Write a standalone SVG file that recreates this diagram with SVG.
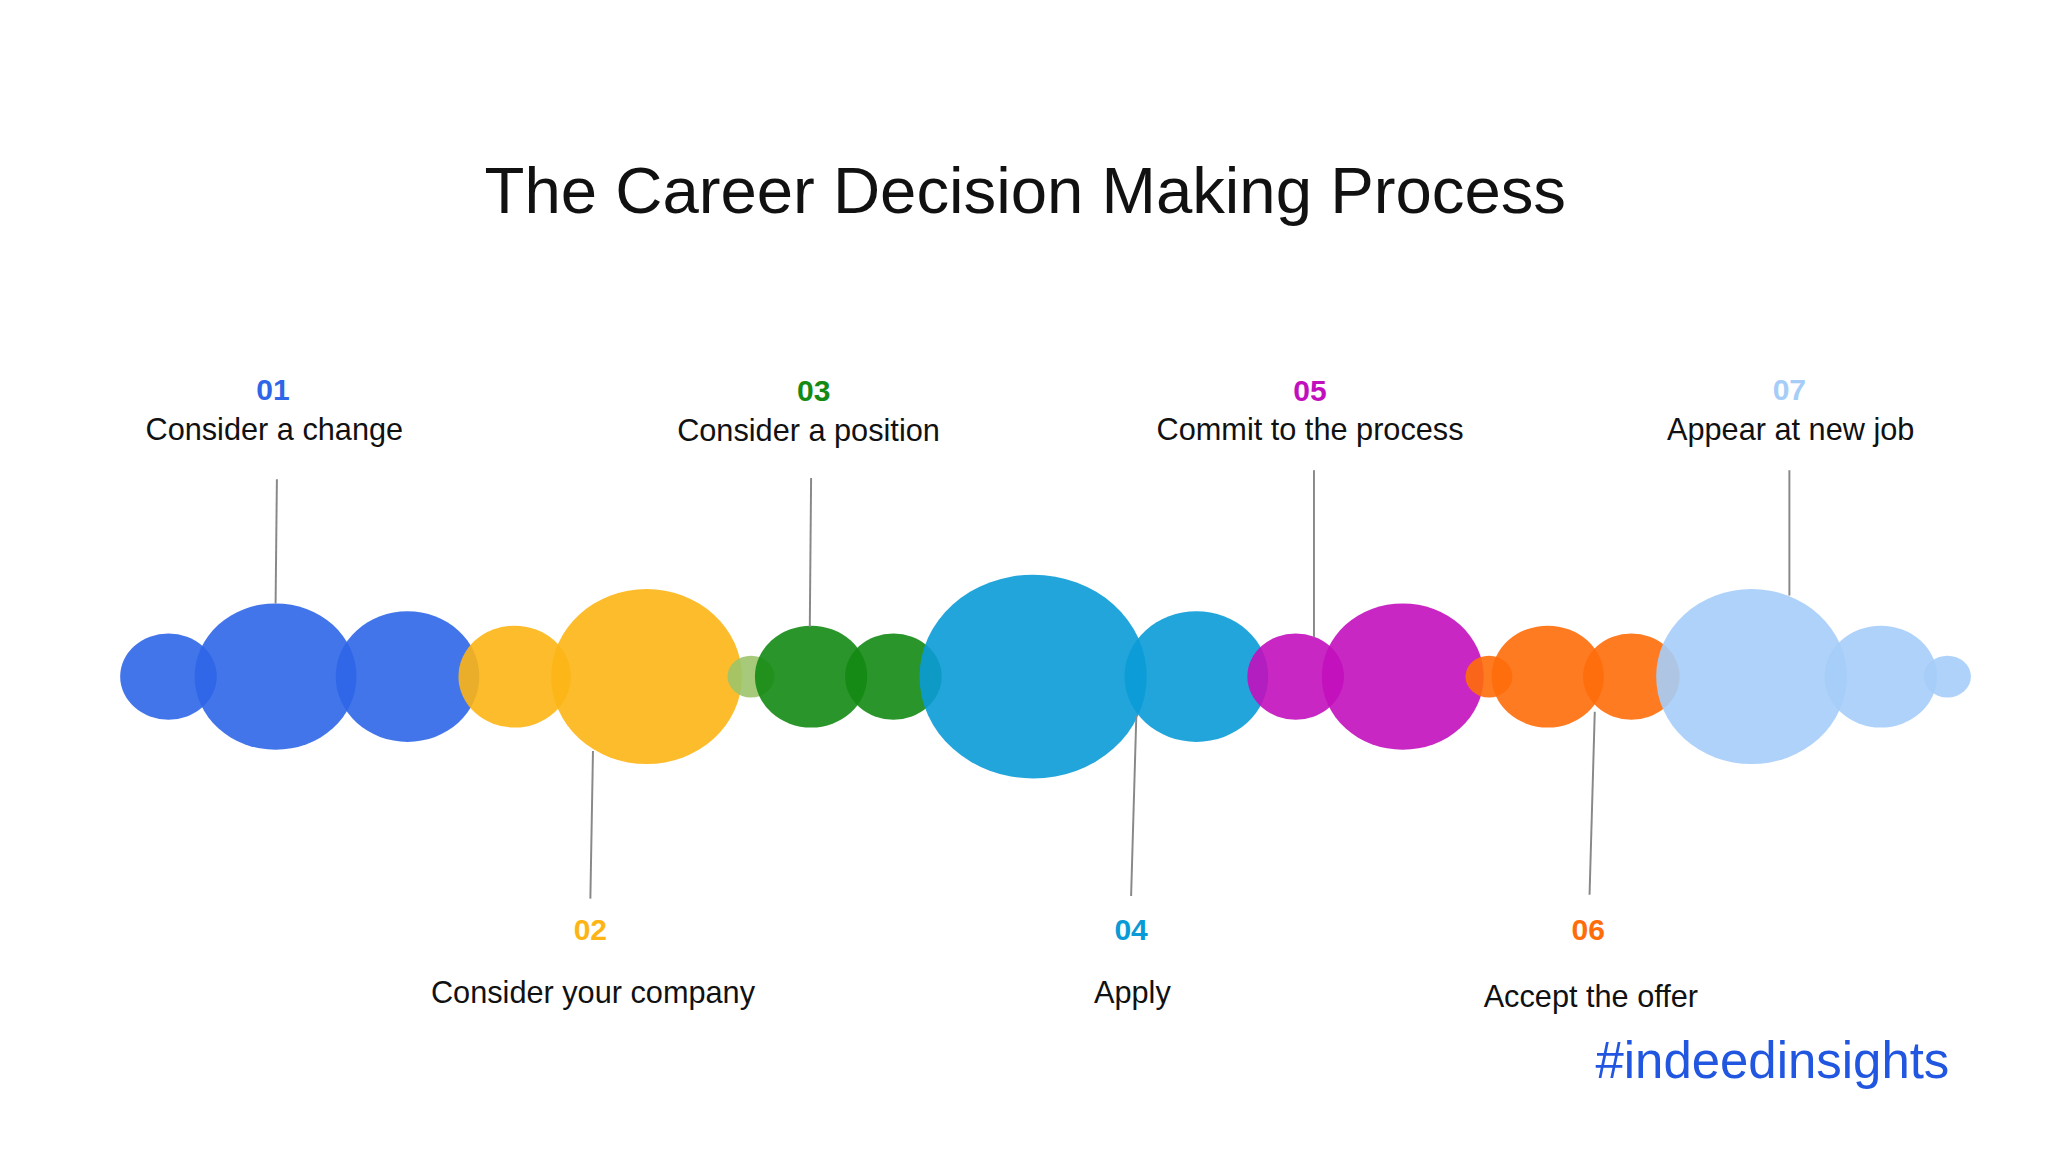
<svg xmlns="http://www.w3.org/2000/svg" width="2048" height="1152" viewBox="0 0 2048 1152">
<style>
.t{font-family:"Liberation Sans",Arial,sans-serif;text-anchor:middle}
.n{font-size:23px;font-weight:bold}
.l{font-size:23.5px;fill:#111}
.c{fill-opacity:0.9}
.ln{stroke:#888;stroke-width:1.5}
</style>
<rect width="2048" height="1152" fill="#fff"/>
<g transform="scale(1.30612)">
<text class="t" x="785" y="163" font-size="50" fill="#111">The Career Decision Making Process</text>
<g id="bubbles">
<g fill="#2f66e8" class="c"><ellipse cx="129" cy="518" rx="37" ry="33"/><ellipse cx="211" cy="518" rx="62" ry="56"/><ellipse cx="312" cy="518" rx="55" ry="50"/></g>
<g fill="#fdb515" class="c"><ellipse cx="394" cy="518" rx="43" ry="39"/><ellipse cx="495" cy="518" rx="73" ry="67"/></g>
<ellipse cx="575" cy="518" rx="18" ry="16" fill="#9cc46a" class="c"/>
<g fill="#138a13" class="c"><ellipse cx="621" cy="518" rx="43" ry="39"/><ellipse cx="684" cy="518" rx="37" ry="33"/></g>
<g fill="#0a9bd6" class="c"><ellipse cx="791" cy="518" rx="87" ry="78"/><ellipse cx="916" cy="518" rx="55" ry="50"/></g>
<g fill="#c20fbd" class="c"><ellipse cx="992" cy="518" rx="37" ry="33"/><ellipse cx="1074" cy="518" rx="62" ry="56"/></g>
<g fill="#ff6d0a" class="c"><ellipse cx="1140" cy="518" rx="18" ry="16"/><ellipse cx="1185" cy="518" rx="43" ry="39"/><ellipse cx="1249" cy="518" rx="37" ry="33"/></g>
<g fill="#a5cdf8" class="c"><ellipse cx="1341" cy="518" rx="73" ry="67"/><ellipse cx="1440" cy="518" rx="43" ry="39"/><ellipse cx="1491" cy="518" rx="18" ry="16"/></g>
</g>
<g id="connectors">
<line class="ln" x1="212" y1="367" x2="211" y2="462"/>
<line class="ln" x1="454" y1="575" x2="452" y2="688"/>
<line class="ln" x1="621" y1="366" x2="620" y2="480"/>
<line class="ln" x1="870" y1="548" x2="866" y2="686"/>
<line class="ln" x1="1006" y1="360" x2="1006" y2="488"/>
<line class="ln" x1="1221" y1="545" x2="1217" y2="685"/>
<line class="ln" x1="1370" y1="360" x2="1370" y2="456"/>
</g>
<g id="s01"><text class="t n" x="209" y="306" fill="#2f66e8">01</text><text class="t l" x="210" y="337">Consider a change</text></g>
<g id="s02"><text class="t n" x="452" y="720" fill="#fdb515">02</text><text class="t l" x="454" y="768">Consider your company</text></g>
<g id="s03"><text class="t n" x="623" y="307" fill="#138a13">03</text><text class="t l" x="619" y="338">Consider a position</text></g>
<g id="s04"><text class="t n" x="866" y="720" fill="#0a9bd6">04</text><text class="t l" x="867" y="768">Apply</text></g>
<g id="s05"><text class="t n" x="1003" y="307" fill="#c20fbd">05</text><text class="t l" x="1003" y="337">Commit to the process</text></g>
<g id="s06"><text class="t n" x="1216" y="720" fill="#ff6d0a">06</text><text class="t l" x="1218" y="771">Accept the offer</text></g>
<g id="s07"><text class="t n" x="1370" y="306" fill="#a5cdf8">07</text><text class="t l" x="1371" y="337">Appear at new job</text></g>
<text class="t" x="1357" y="825" font-size="39" fill="#2156e0">#indeedinsights</text>
</g>
</svg>
